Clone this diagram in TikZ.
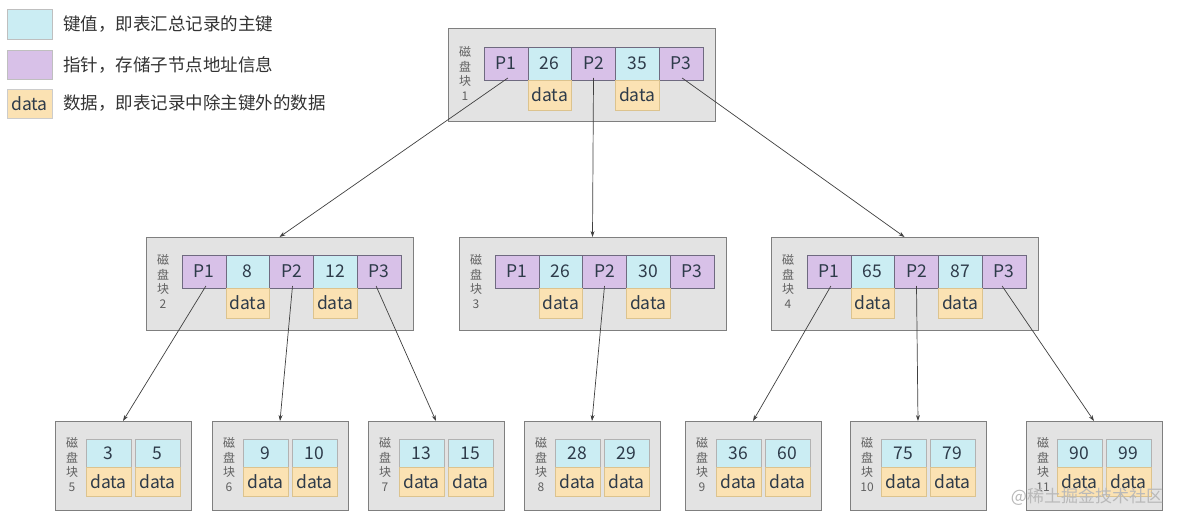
\documentclass[tikz,border=0pt]{standalone}
\usepackage{fontspec}
\setmainfont{Noto Sans CJK SC}
\usetikzlibrary{arrows.meta,calc}
\definecolor{keyc}{HTML}{CBEDF3}
\definecolor{ptrc}{HTML}{D8C1E8}
\definecolor{datc}{HTML}{FBE2B3}
\definecolor{blkc}{HTML}{E3E3E3}
\definecolor{blkb}{HTML}{7F7F7F}
\definecolor{txtc}{HTML}{2E3B4A}
\definecolor{cellb}{HTML}{6F6A80}
\definecolor{datb}{HTML}{DCC38E}
\tikzset{
  blk/.style={draw=blkb, fill=blkc, line width=1pt, inner sep=0, outer sep=0},
  cellbase/.style={inner sep=0, outer sep=0, line width=0.6pt, text=txtc, font=\fontsize{17.5}{17.5}\selectfont},
  pc/.style={cellbase, draw=cellb, fill=ptrc, minimum width=43.8, minimum height=33},
  kc/.style={cellbase, draw=cellb, fill=keyc, minimum width=43.8, minimum height=33},
  dc/.style={cellbase, draw=datb, fill=datc, minimum width=43.8, minimum height=30},
  lkc/.style={cellbase, draw=gray!60, fill=keyc, minimum width=45, minimum height=28},
  ldc/.style={cellbase, draw=datb, fill=datc, minimum width=45, minimum height=29},
  lbl/.style={inner sep=0, text=gray!75!black, align=center, font=\fontsize{12}{14.8}\selectfont},
  link/.style={draw=black!75, line width=0.7pt, -{Stealth[length=6pt,width=4pt]}},
  legtxt/.style={anchor=west, inner sep=0, text=black!80, font=\fontsize{17.5}{17.5}\selectfont}
}
\newcommand\innerblock[6]{%
  \node[blk, minimum width=267, minimum height=93, anchor=north west] (#1) at (#2,#3) {};
  \node[pc, anchor=north west] (#1p1) at ($(#1.north west)+(36,18)$) {P1};
  \node[kc, anchor=west] (#1k1) at (#1p1.east) {#4};
  \node[pc, anchor=west] (#1p2) at (#1k1.east) {P2};
  \node[kc, anchor=west] (#1k2) at (#1p2.east) {#5};
  \node[pc, anchor=west] (#1p3) at (#1k2.east) {P3};
  \node[dc, anchor=north] (#1d1) at (#1k1.south) {data};
  \node[dc, anchor=north] (#1d2) at (#1k2.south) {data};
  \node[lbl, anchor=north] (#1lb) at ($(#1.north west)+(17,17)$) {磁\\盘\\块\\#6};
}
\newcommand\leafblock[5]{%
  \node[blk, minimum width=136, minimum height=89, anchor=north west] (#1) at (#2,421) {};
  \node[lkc, anchor=north west] (#1k1) at ($(#1.north west)+(31,18)$) {#3};
  \node[lkc, anchor=north west] (#1k2) at ($(#1.north west)+(80,18)$) {#4};
  \node[ldc, anchor=north] (#1d1) at (#1k1.south) {data};
  \node[ldc, anchor=north] (#1d2) at (#1k2.south) {data};
  \node[lbl, anchor=north] (#1lb) at ($(#1.north west)+(17,16)$) {磁\\盘\\块\\#5};
}
\begin{document}
\begin{tikzpicture}[x=1pt,y=-1pt]
\fill[white] (0,0) rectangle (1184,524);
\useasboundingbox (0,0) rectangle (1184,524);
% legend
\node[kc, minimum width=45, minimum height=30, draw=gray!50, anchor=north west] (lg1) at (7,9) {};
\node[pc, minimum width=45, minimum height=29, draw=gray!50, anchor=north west] (lg2) at (7,50) {};
\node[dc, minimum width=45, minimum height=29, draw=gray!40, anchor=north west] (lg3) at (7,89) {data};
\node[legtxt] (lt1) at (63,24) {键值，即表汇总记录的主键};
\node[legtxt] (lt2) at (63,64.5) {指针，存储子节点地址信息};
\node[legtxt] (lt3) at (63,103.5) {数据，即表记录中除主键外的数据};
% inner blocks
\innerblock{root}{448}{29}{26}{35}{1}
\innerblock{la}{146}{237}{8}{12}{2}
\innerblock{lb}{459}{237}{26}{30}{3}
\innerblock{lc}{771}{237}{65}{87}{4}
% leaves
\leafblock{f1}{55}{3}{5}{5}
\leafblock{f2}{212}{9}{10}{6}
\leafblock{f3}{368}{13}{15}{7}
\leafblock{f4}{524}{28}{29}{8}
\leafblock{f5}{685}{36}{60}{9}
\leafblock{f6}{850}{75}{79}{10}
\leafblock{f7}{1026}{90}{99}{11}
% links
\draw[link] ($(rootp1.south)+(2,-2)$) -- (la.north);
\draw[link] ($(rootp2.south)+(0,-2)$) -- (lb.north);
\draw[link] ($(rootp3.south)+(1,-2)$) -- (lc.north);
\draw[link] ($(lap1.south)+(2,-2)$) -- (f1.north);
\draw[link] ($(lap2.south)+(1,-2)$) -- (f2.north);
\draw[link] ($(lap3.south)+(-3,-2)$) -- (f3.north);
\draw[link] ($(lbp2.south)+(0,-2)$) -- (f4.north);
\draw[link] ($(lcp1.south)+(2,-2)$) -- (f5.north);
\draw[link] ($(lcp2.south)+(0,-2)$) -- (f6.north);
\draw[link] ($(lcp3.south)+(-2,-2)$) -- (f7.north);
% watermark
\node[inner sep=0, text=gray!55, font=\fontsize{17}{17}\selectfont] (wm) at (1087,497) {@稀土掘金技术社区};
\end{tikzpicture}
\end{document}
